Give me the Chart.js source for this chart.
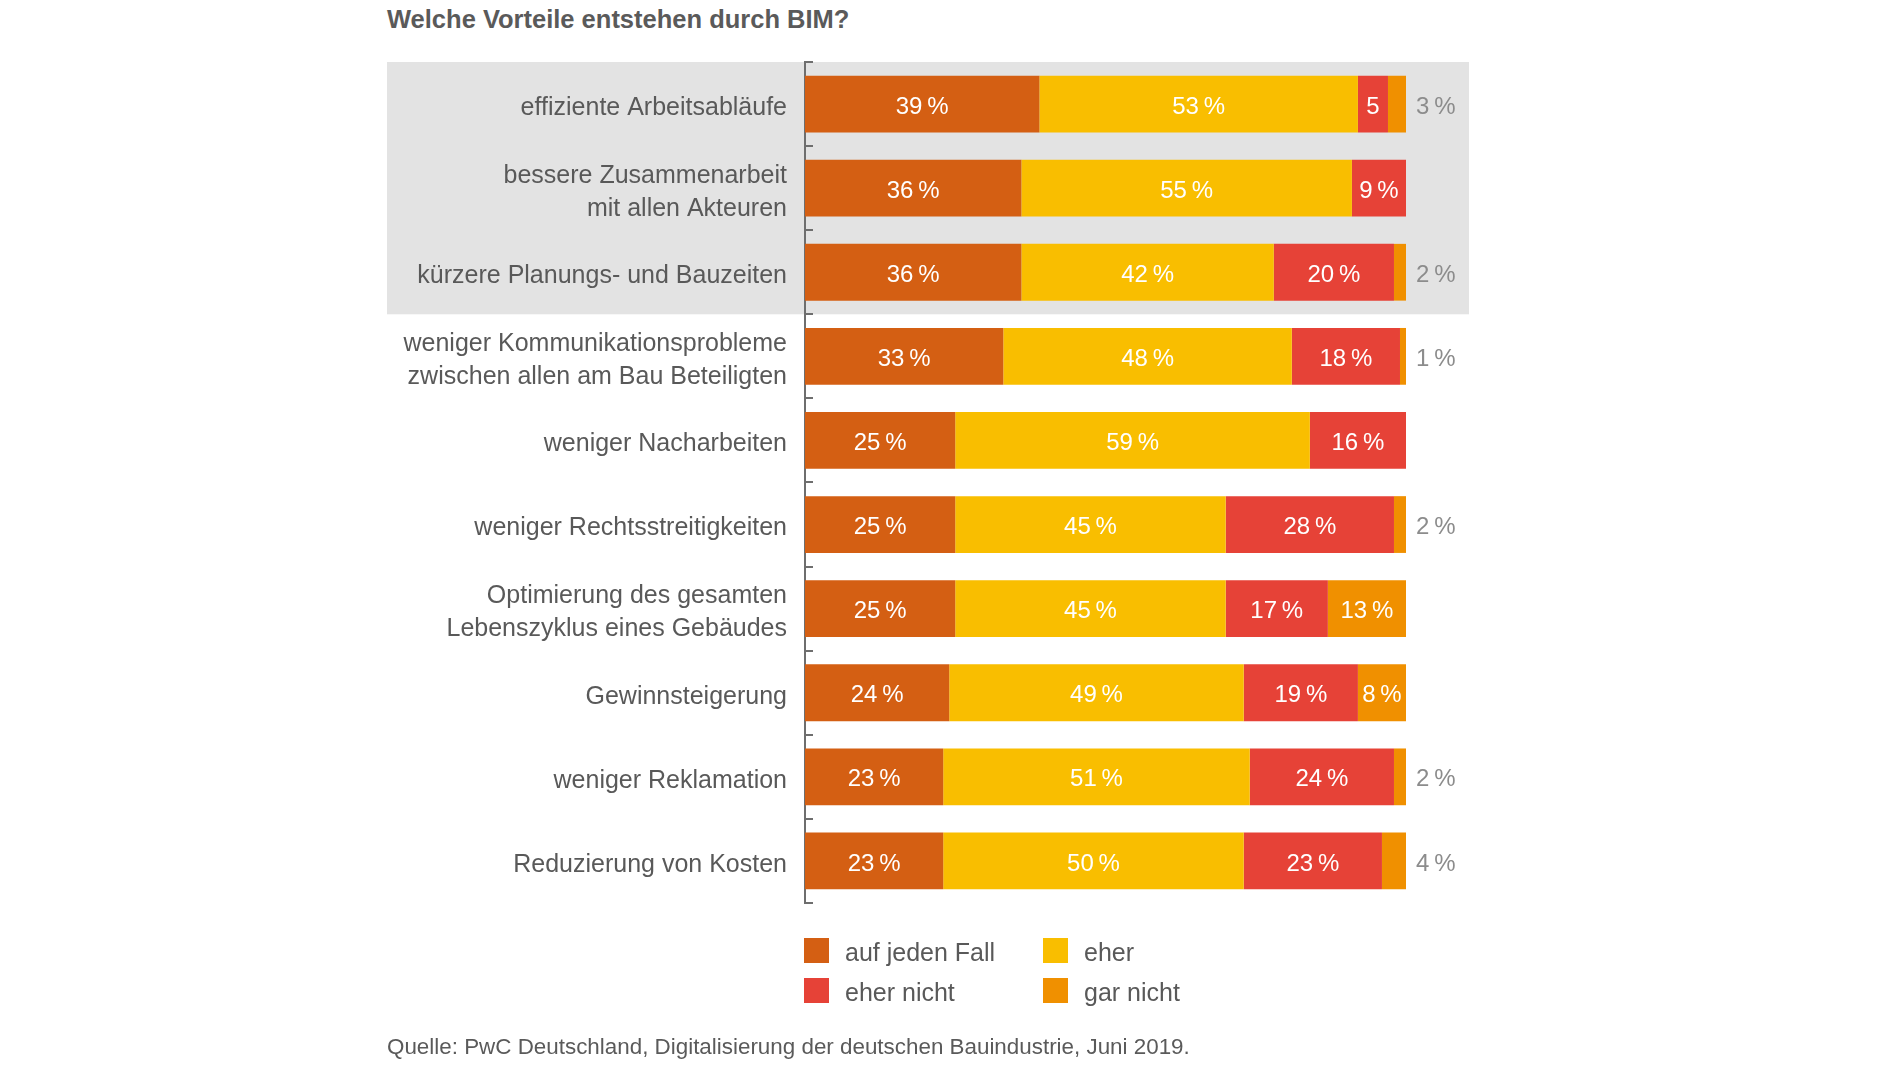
<!DOCTYPE html>
<html>
<head>
<meta charset="utf-8">
<script src="https://cdn.jsdelivr.net/npm/chart.js@4.4.1/dist/chart.umd.min.js"></script>
<style>
  html, body { margin:0; padding:0; background:#fff; }
  body { width:1900px; height:1069px; position:relative; overflow:hidden; font-family:"Liberation Sans", Arial, sans-serif; }
  #c { position:absolute; left:0; top:0; }
  #title { position:absolute; left:387px; top:5px; font-size:25.5px; line-height:28px; font-weight:bold; color:#5a5a5a; white-space:nowrap; }
  #source { position:absolute; left:387px; top:1034px; font-size:22.4px; line-height:26px; color:#5a5a5a; white-space:nowrap; }
  .lg { position:absolute; height:26px; line-height:26px; font-size:25px; color:#595959; white-space:nowrap; }
  .lg span.sw { position:absolute; left:0; top:0; width:25px; height:25px; }
  .lg span.tx { position:absolute; left:41px; top:1px; }
</style>
</head>
<body>
<div id="title"></div>
<canvas id="c" width="1900" height="1069"></canvas>
<div id="legend"></div>
<div id="source"></div>
<script>
const titleText = "Welche Vorteile entstehen durch BIM?";
const sourceText = "Quelle: PwC Deutschland, Digitalisierung der deutschen Bauindustrie, Juni 2019.";
const categories = [
  ["effiziente Arbeitsabläufe"],
  ["bessere Zusammenarbeit", "mit allen Akteuren"],
  ["kürzere Planungs- und Bauzeiten"],
  ["weniger Kommunikationsprobleme", "zwischen allen am Bau Beteiligten"],
  ["weniger Nacharbeiten"],
  ["weniger Rechtsstreitigkeiten"],
  ["Optimierung des gesamten", "Lebenszyklus eines Gebäudes"],
  ["Gewinnsteigerung"],
  ["weniger Reklamation"],
  ["Reduzierung von Kosten"]
];
const seriesNames = ["auf jeden Fall", "eher", "eher nicht", "gar nicht"];
const aufJedenFall = [39, 36, 36, 33, 25, 25, 25, 24, 23, 23];
const eher         = [53, 55, 42, 48, 59, 45, 45, 49, 51, 50];
const eherNicht    = [5, 9, 20, 18, 16, 28, 17, 19, 24, 23];
const garNicht     = [3, 0, 2, 1, 0, 2, 13, 8, 2, 4];
const colors = ["#D45F13", "#F9BE00", "#E64237", "#F09000"];
const highlightedCount = 3;

document.getElementById('title').textContent = titleText;
document.getElementById('source').textContent = sourceText;

// legend (2 x 2)
const legendPos = [[804, 938], [1043, 938], [804, 978], [1043, 978]];
const lgRoot = document.getElementById('legend');
seriesNames.forEach((n, i) => {
  const d = document.createElement('div');
  d.className = 'lg';
  d.style.left = legendPos[i][0] + 'px';
  d.style.top = legendPos[i][1] + 'px';
  d.innerHTML = '<span class="sw" style="background:' + colors[i] + '"></span><span class="tx"></span>';
  d.querySelector('.tx').textContent = n;
  lgRoot.appendChild(d);
});

const pct = v => v + '\u2009%';

const bandPlugin = {
  id: 'band',
  beforeDraw(chart) {
    const y = chart.scales.y, ctx = chart.ctx;
    // nudge category labels down so they sit optically centred on the bars
    const items = y.getLabelItems(chart.chartArea);
    if (!items._shifted) {
      items.forEach(it => { it.options.translation[1] += 4; });
      items._shifted = true;
    }
    const half = (y.getPixelForValue(1) - y.getPixelForValue(0)) / 2;
    const top = y.getPixelForValue(0) - half;
    const bot = y.getPixelForValue(highlightedCount - 1) + half;
    ctx.save();
    ctx.fillStyle = '#E3E3E3';
    ctx.fillRect(387, top, 1469 - 387, bot - top);
    ctx.restore();
  },
  afterDraw(chart) {
    const y = chart.scales.y, ctx = chart.ctx;
    const half = (y.getPixelForValue(1) - y.getPixelForValue(0)) / 2;
    const left = chart.chartArea.left;
    ctx.save();
    ctx.strokeStyle = '#6e6e6e';
    ctx.lineWidth = 2;
    for (let i = 0; i <= categories.length; i++) {
      const py = Math.round(y.getPixelForValue(0) - half + i * 2 * half);
      ctx.beginPath();
      ctx.moveTo(left - 1, py);
      ctx.lineTo(left + 8, py);
      ctx.stroke();
    }
    ctx.restore();
  }
};

const labelPlugin = {
  id: 'vals',
  afterDatasetsDraw(chart) {
    const ctx = chart.ctx;
    ctx.save();
    ctx.font = '24px "Liberation Sans", Arial, sans-serif';
    ctx.textBaseline = 'middle';
    chart.data.datasets.forEach((ds, di) => {
      const meta = chart.getDatasetMeta(di);
      meta.data.forEach((bar, i) => {
        const v = ds.data[i];
        if (!v) return;
        if (v >= 5) {
          ctx.fillStyle = '#ffffff';
          ctx.textAlign = 'center';
          ctx.fillText(v < 8 ? String(v) : pct(v), (bar.x + bar.base) / 2, bar.y + 3);
        } else {
          ctx.fillStyle = '#8c8c8c';
          ctx.textAlign = 'left';
          ctx.fillText(pct(v), chart.chartArea.right + 10, bar.y + 3);
        }
      });
    });
    ctx.restore();
  }
};

const seriesData = [aufJedenFall, eher, eherNicht, garNicht];
new Chart(document.getElementById('c'), {
  type: 'bar',
  data: {
    labels: categories,
    datasets: seriesNames.map((n, i) => ({
      label: n,
      data: seriesData[i],
      backgroundColor: colors[i],
      borderWidth: 0,
      barPercentage: 0.675,
      categoryPercentage: 1
    }))
  },
  options: {
    indexAxis: 'y',
    responsive: false,
    animation: false,
    devicePixelRatio: 1,
    layout: { padding: { top: 62, bottom: 1069 - 903, right: 1900 - 1406, left: 0 } },
    plugins: { legend: { display: false }, tooltip: { enabled: false } },
    scales: {
      x: { stacked: true, min: 0, max: 100, display: false },
      y: {
        stacked: true,
        grid: { display: false, drawTicks: false },
        border: { display: true, color: '#6e6e6e', width: 2 },
        ticks: {
          color: '#595959',
          padding: 18,
          font: { family: '"Liberation Sans", Arial, sans-serif', size: 25, lineHeight: 1.32 }
        },
        afterFit(scale) { scale.width = 805; }
      }
    }
  },
  plugins: [bandPlugin, labelPlugin]
});
</script>
</body>
</html>
